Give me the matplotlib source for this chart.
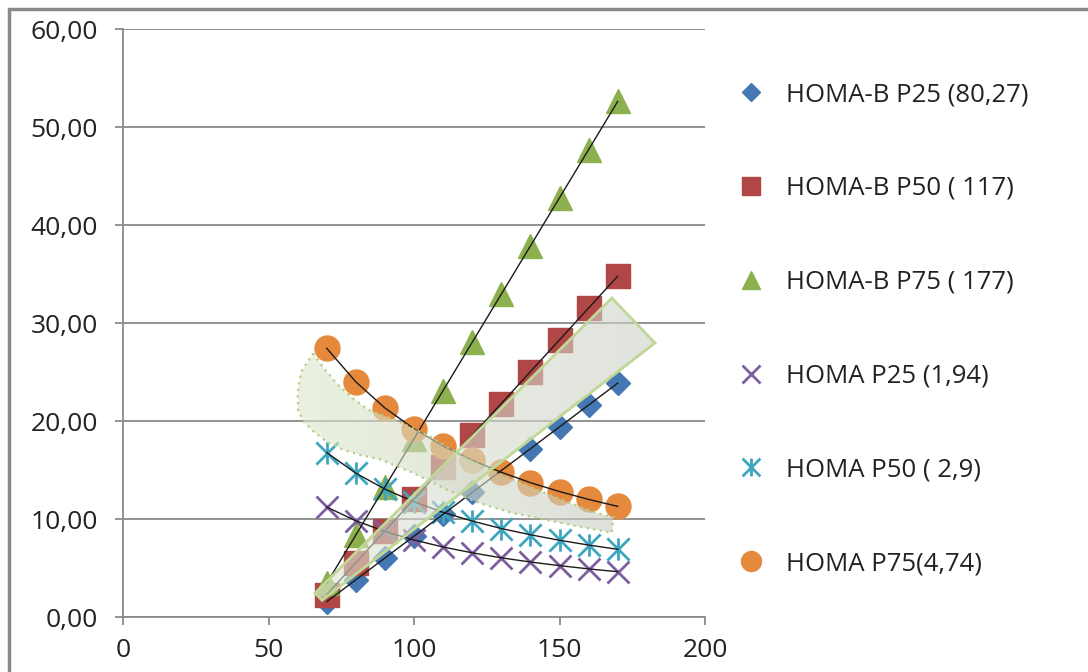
import numpy as np
import matplotlib.pyplot as plt
from matplotlib.path import Path
from matplotlib.patches import Polygon, Rectangle
from matplotlib.colors import LinearSegmentedColormap
from matplotlib.ticker import FuncFormatter

plt.rcParams['font.family'] = ['Open Sans', 'DejaVu Sans']

glucose = [70, 80, 90, 100, 110, 120, 130, 140, 150, 160, 170]

homab_p25 = [1.56, 3.79, 6.02, 8.25, 10.48, 12.71, 14.94, 17.17, 19.40, 21.63, 23.86]
homab_p50 = [2.28, 5.53, 8.78, 12.03, 15.28, 18.53, 21.78, 25.03, 28.28, 31.53, 34.78]
homab_p75 = [3.44, 8.36, 13.28, 18.19, 23.11, 28.03, 32.94, 37.86, 42.78, 47.69, 52.61]
homa_p25 = [11.22, 9.82, 8.73, 7.86, 7.14, 6.55, 6.04, 5.61, 5.24, 4.91, 4.62]
homa_p50 = [16.78, 14.68, 13.05, 11.75, 10.68, 9.79, 9.03, 8.39, 7.83, 7.34, 6.91]
homa_p75 = [27.42, 24.00, 21.33, 19.20, 17.45, 16.00, 14.77, 13.71, 12.80, 12.00, 11.29]

labels = ['HOMA-B P25 (80,27)', 'HOMA-B P50 ( 117)', 'HOMA-B P75 ( 177)',
          'HOMA P25 (1,94)', 'HOMA P50 ( 2,9)', 'HOMA P75(4,74)']

# outlines of the two shaded highlight shapes (data coords)
band_x = [65.3, 68.7, 73.5, 79, 84, 89, 94.2, 100, 105.5, 116.8, 128.5, 139.9, 151.2, 162.9, 168.4,
          168.0, 157, 145.7, 134, 122.7, 111.3, 99.7, 88.3, 82, 76.3, 70.4, 66.0, 62.5, 60.2, 60.0, 61.2]
band_y = [26.9, 25.5, 23.8, 22.3, 21.2, 20.6, 20.0, 19.2, 18.4, 16.4, 14.7, 13.3, 11.9, 10.6, 10.2,
          8.6, 9.2, 9.9, 10.6, 11.6, 13.0, 14.7, 16.1, 16.5, 17.0, 17.8, 18.8, 19.8, 21.0, 22.8, 25.0]
wedge_x = [66.0, 168.0, 182.8, 68.4]
wedge_y = [2.45, 32.55, 27.96, 1.7]

# asterisk marker: vertical bar plus an X
star = Path([(0, -1), (0, 1), (-1, -1), (1, 1), (-1, 1), (1, -1)],
            [Path.MOVETO, Path.LINETO] * 3)

fig = plt.figure(figsize=(10.88, 6.72), dpi=100)
ax = fig.add_axes([123 / 1088, 55 / 672, 582 / 1088, 588 / 672])

h1, = ax.plot(glucose, homab_p25, 'D', ms=12, color='#4577b3', ls='none', zorder=3)
h2, = ax.plot(glucose, homab_p50, 's', ms=17, color='#b04746', ls='none', zorder=3)
h3, = ax.plot(glucose, homab_p75, '^', ms=17, color='#8cb04e', ls='none', zorder=3)
h4, = ax.plot(glucose, homa_p25, 'x', ms=16, mew=2, color='#7d5fa0', ls='none', zorder=3)
h5, = ax.plot(glucose, homa_p50, marker=star, ms=16, mew=2, color='#3ea6bf', ls='none', zorder=3)
h6, = ax.plot(glucose, homa_p75, 'o', ms=18, color='#e58a3c', ls='none', zorder=3)

# trendlines
for s in [homab_p25, homab_p50, homab_p75, homa_p25, homa_p50, homa_p75]:
    ax.plot(glucose, s, color='#1a1a1a', lw=1, zorder=4)

# gradient-filled overlay shapes
grad = np.linspace(0, 1, 256).reshape(1, -1)
band = Polygon(np.column_stack([band_x, band_y]), closed=True, fill=False,
               ec='#b3cd86', lw=1.6, ls=(0, (1, 2)), zorder=6)
ax.add_patch(band)
im = ax.imshow(grad, extent=[60, 169, 8, 27], aspect='auto', zorder=5, alpha=0.6,
               cmap=LinearSegmentedColormap.from_list('b', ['#dde8cb', '#c9cdc3']))
im.set_clip_path(band)

wedge = Polygon(np.column_stack([wedge_x, wedge_y]), closed=True, fill=False,
                ec='#c0d795', lw=2, zorder=6)
ax.add_patch(wedge)
im2 = ax.imshow(grad, extent=[66, 183, 1.7, 32.6], aspect='auto', zorder=5, alpha=0.6,
                cmap=LinearSegmentedColormap.from_list('w', ['#dfe6d2', '#cdd1c7']))
im2.set_clip_path(wedge)

ax.set_xlim(0, 200)
ax.set_ylim(0, 60)
ax.set_xticks([0, 50, 100, 150, 200])
ax.set_yticks(np.arange(0, 61, 10))
ax.yaxis.set_major_formatter(FuncFormatter(lambda v, p: f'{v:.2f}'.replace('.', ',')))
ax.grid(axis='y', color='#8a8a8a', lw=1.3)
ax.set_axisbelow(True)
for side in ['top', 'right']:
    ax.spines[side].set_visible(False)
for side in ['left', 'bottom']:
    ax.spines[side].set_color('#8a8a8a')
    ax.spines[side].set_linewidth(1.3)
ax.tick_params(colors='#8a8a8a', labelcolor='#222222', labelsize=19, length=6, width=1.3)
ax.tick_params(axis='y', pad=12)
ax.tick_params(axis='x', pad=9)

leg = fig.legend([h1, h2, h3, h4, h5, h6], labels, loc='upper left',
                 bbox_to_anchor=(739 / 1088, 1 - 82 / 672), frameon=False,
                 fontsize=18.5, markerscale=0.8, handlelength=0.95, handletextpad=0.88,
                 labelspacing=2.68, borderpad=0, borderaxespad=0, numpoints=1)
for t in leg.get_texts():
    t.set_color('#222222')

# chart area border
fig.patches.append(Rectangle((9 / 1088, -0.2), 1.5, 1.2 - 9 / 672, transform=fig.transFigure,
                             fill=False, ec='#8a8a8a', lw=2.5, zorder=10))

fig.savefig('out.png', dpi=100)
